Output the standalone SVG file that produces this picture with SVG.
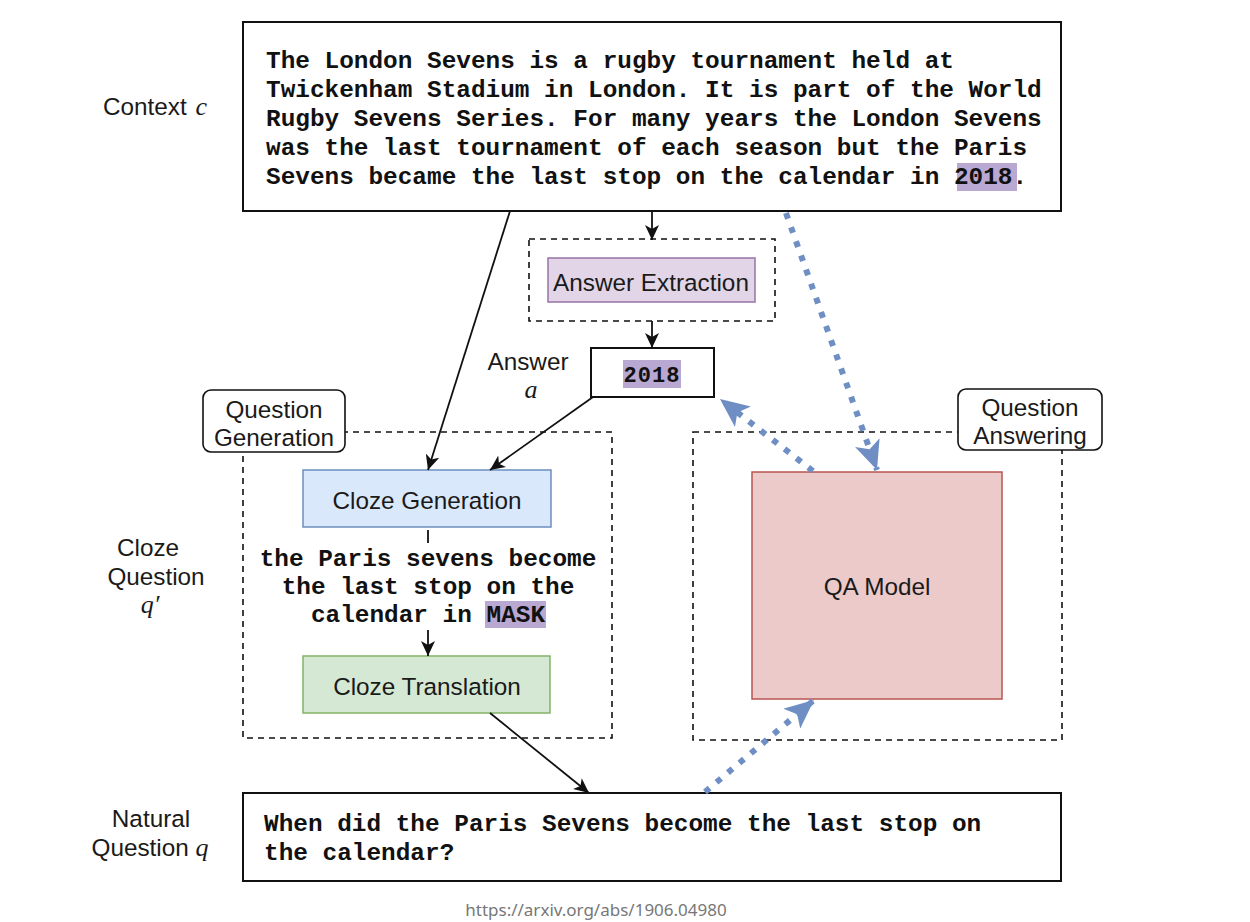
<svg xmlns="http://www.w3.org/2000/svg" width="1250" height="922" viewBox="0 0 1250 922">
<defs>
<style>
.sans{font-family:"Liberation Sans",Arial,sans-serif;font-size:24.3px;fill:#1a1a1a}
.mono{font-family:"Liberation Mono","Courier New",monospace;font-weight:bold;font-size:24.4px;fill:#111}
.it{font-family:"Liberation Serif","Times New Roman",serif;font-style:italic;font-size:26px;fill:#1a1a1a}
.box{fill:#fff;stroke:#111;stroke-width:2}
.dash{fill:none;stroke:#111;stroke-width:1.6;stroke-dasharray:6 5}
.conn{fill:none;stroke:#111;stroke-width:1.8}
.blue{fill:none;stroke:#6f8fc4;stroke-width:6;stroke-dasharray:6 9}
.hl{fill:#b9a8d2}
</style>
<marker id="ah" markerUnits="userSpaceOnUse" markerWidth="16" markerHeight="14" refX="15" refY="7" orient="auto">
<path d="M0,0 L15,7 L0,14 L4,7 Z" fill="#111"/>
</marker>
<marker id="bh" markerUnits="userSpaceOnUse" markerWidth="30" markerHeight="26" refX="29" refY="13" orient="auto">
<path d="M0,0 L29,13 L0,26 L7,13 Z" fill="#6f8fc4"/>
</marker>
</defs>
<rect width="1250" height="922" fill="#fff"/>

<g id="labels">
<text class="sans" x="103" y="115">Context <tspan class="it" dx="2">c</tspan></text>
<text class="sans" x="528" y="370" text-anchor="middle">Answer</text>
<text class="it" x="531" y="398" text-anchor="middle">a</text>
<text class="sans" x="148" y="556" text-anchor="middle">Cloze</text>
<text class="sans" x="156" y="585" text-anchor="middle">Question</text>
<text class="it" x="150" y="613" text-anchor="middle">q′</text>
<text class="sans" x="151" y="827" text-anchor="middle">Natural</text>
<text class="sans" x="150" y="856" text-anchor="middle">Question <tspan class="it">q</tspan></text>
</g>

<g id="question-generation-group">
<rect class="dash" x="243" y="432" width="369" height="306"/>
<rect x="203" y="390" width="142" height="62" rx="8" fill="#fff" stroke="#111" stroke-width="1.6"/>
<text class="sans" x="274" y="418" text-anchor="middle">Question</text>
<text class="sans" x="274" y="446" text-anchor="middle">Generation</text>
</g>

<g id="question-answering-group">
<rect class="dash" x="693" y="432" width="369" height="308"/>
<rect x="958" y="389" width="144" height="61" rx="8" fill="#fff" stroke="#111" stroke-width="1.6"/>
<text class="sans" x="1030" y="416" text-anchor="middle">Question</text>
<text class="sans" x="1030" y="444" text-anchor="middle">Answering</text>
</g>

<g id="context">
<rect class="box" x="243" y="22" width="818" height="189"/>
<rect class="hl" x="957" y="163" width="60" height="28"/>
<text class="mono" x="266" y="68">The London Sevens is a rugby tournament held at</text>
<text class="mono" x="266" y="97">Twickenham Stadium in London. It is part of the World</text>
<text class="mono" x="266" y="126">Rugby Sevens Series. For many years the London Sevens</text>
<text class="mono" x="266" y="155">was the last tournament of each season but the Paris</text>
<text class="mono" x="266" y="184">Sevens became the last stop on the calendar in 2018.</text>
</g>

<g id="answer-extraction">
<rect class="dash" x="529" y="239" width="246" height="82"/>
<rect x="548" y="258" width="207" height="44" fill="#e1d5e7" stroke="#9673a6" stroke-width="1.5"/>
<text class="sans" x="651" y="291" text-anchor="middle">Answer Extraction</text>
</g>

<g id="answer">
<rect class="box" x="591" y="348" width="123" height="49"/>
<rect class="hl" x="623" y="360" width="58" height="28"/>
<text class="mono" x="652" y="382" text-anchor="middle" style="font-size:22px;letter-spacing:1px">2018</text>
</g>

<g id="cloze-generation">
<rect x="303" y="470" width="248" height="57" fill="#dae8fc" stroke="#6c8ebf" stroke-width="1.5"/>
<text class="sans" x="427" y="509" text-anchor="middle">Cloze Generation</text>
</g>

<g id="cloze-question">
<rect class="hl" x="485" y="601" width="61" height="27"/>
<text class="mono" x="428" y="566" text-anchor="middle">the Paris sevens become</text>
<text class="mono" x="428" y="594" text-anchor="middle">the last stop on the</text>
<text class="mono" x="428" y="622" text-anchor="middle">calendar in MASK</text>
</g>

<g id="cloze-translation">
<rect x="303" y="656" width="247" height="57" fill="#d5e8d4" stroke="#82b366" stroke-width="1.5"/>
<text class="sans" x="427" y="695" text-anchor="middle">Cloze Translation</text>
</g>

<g id="qa-model">
<rect x="752" y="472" width="250" height="227" fill="#edcaca" stroke="#b85450" stroke-width="1.5"/>
<text class="sans" x="877" y="595" text-anchor="middle">QA Model</text>
</g>

<g id="natural-question">
<rect class="box" x="243" y="793" width="818" height="88"/>
<text class="mono" x="264" y="831">When did the Paris Sevens become the last stop on</text>
<text class="mono" x="264" y="860">the calendar?</text>
</g>

<g id="connectors">
<path class="conn" d="M652,211 L652,240" marker-end="url(#ah)"/>
<path class="conn" d="M652,321 L652,348" marker-end="url(#ah)"/>
<path class="conn" d="M510,211 L428,470" marker-end="url(#ah)"/>
<path class="conn" d="M593,397 L490,470" marker-end="url(#ah)"/>
<path class="conn" d="M428,530 L428,543"/>
<path class="conn" d="M428,630 L428,656" marker-end="url(#ah)"/>
<path class="conn" d="M490,713 L589,793" marker-end="url(#ah)"/>
<path class="blue" d="M786,213 L877,470" marker-end="url(#bh)"/>
<path class="blue" d="M813,471 L720,399" marker-end="url(#bh)"/>
<path class="blue" d="M705,792 L814,700" marker-end="url(#bh)"/>
</g>

<text x="596" y="916" text-anchor="middle" style="font-family:'Noto Sans',sans-serif;font-size:17px;fill:#777">https://arxiv.org/abs/1906.04980</text>
</svg>
